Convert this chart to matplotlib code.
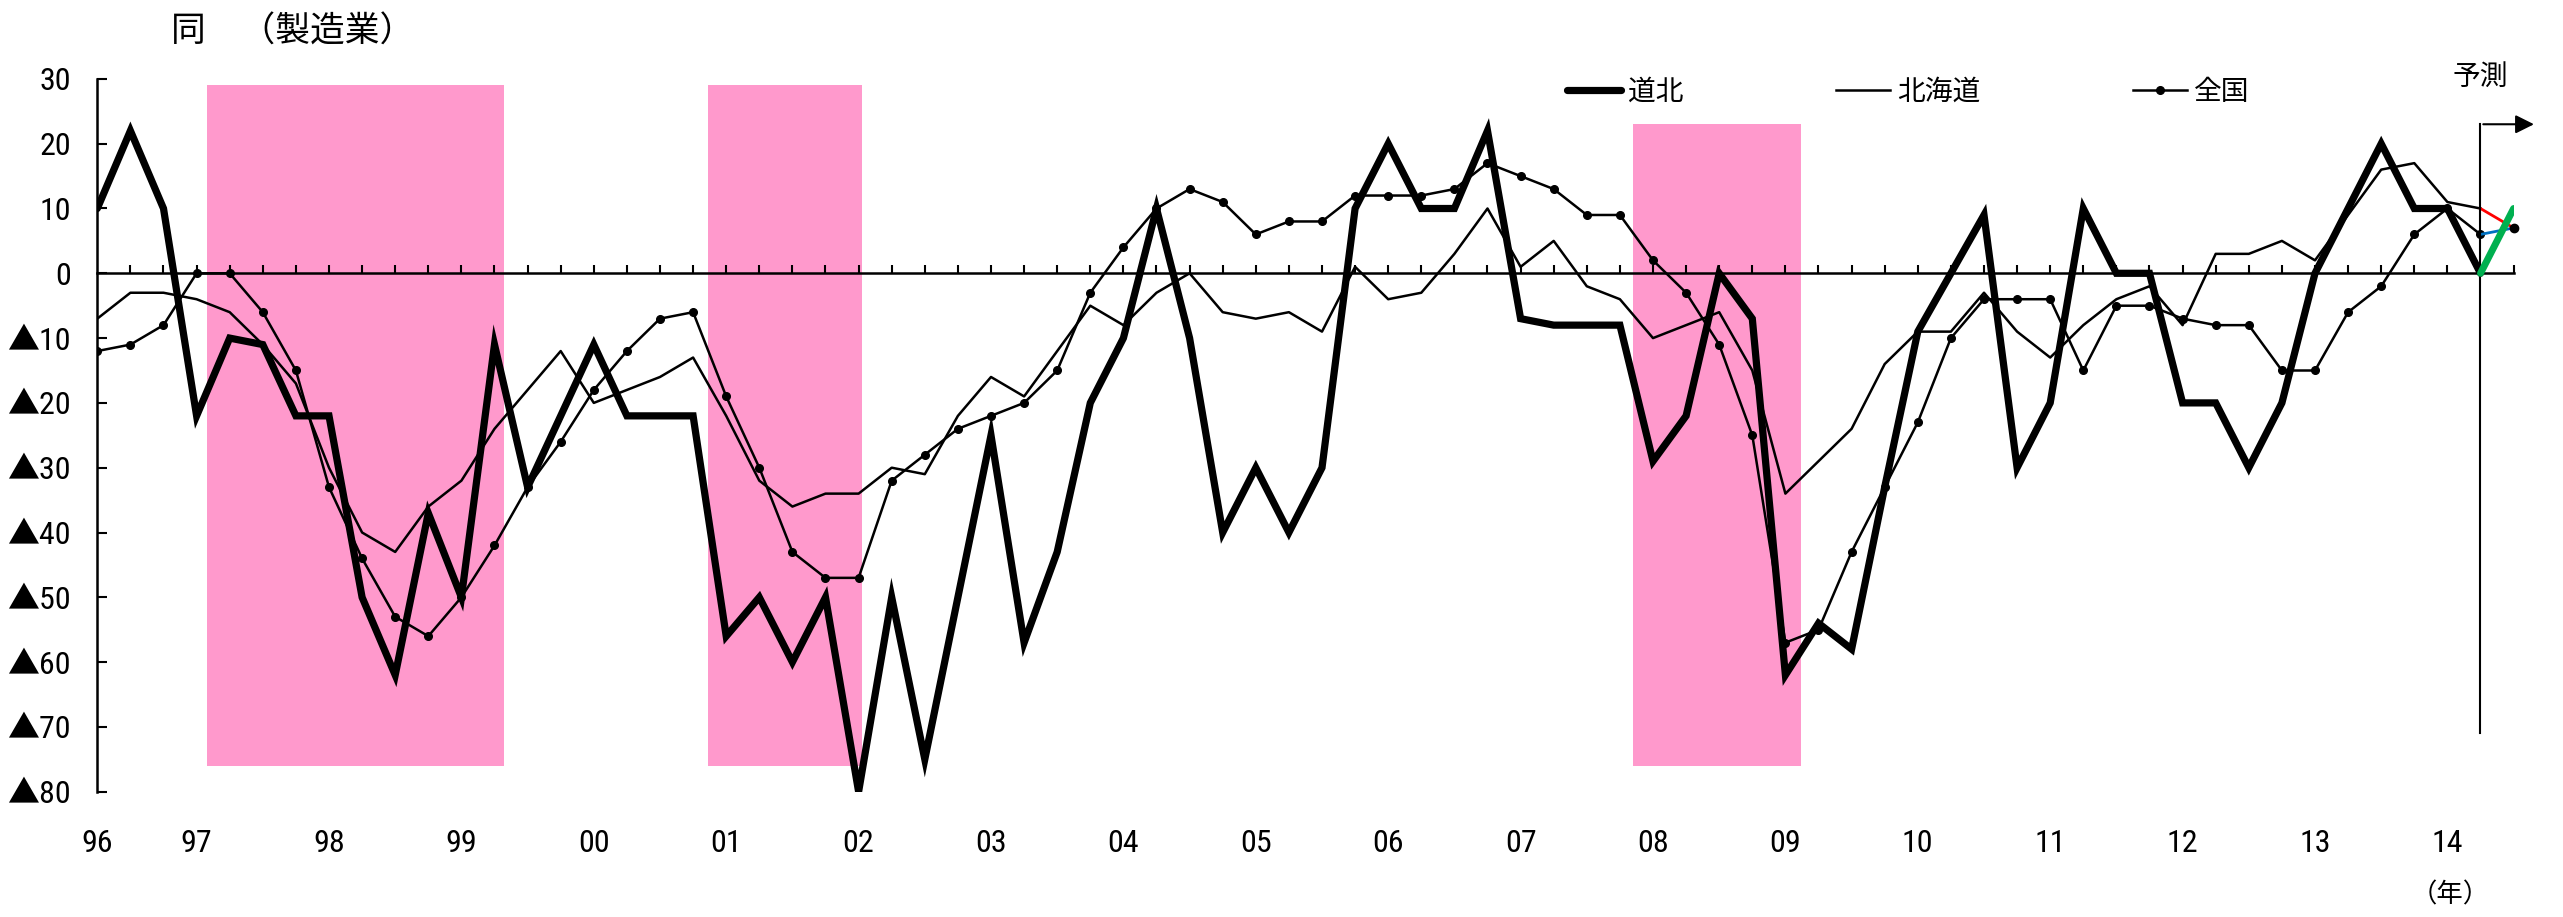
import numpy as np
import matplotlib
matplotlib.use("Agg")
import matplotlib.pyplot as plt
from matplotlib import transforms

NUM_FONT = ["Roboto Condensed", "Noto Sans CJK JP", "DejaVu Sans"]
JP_FONT = ["Noto Sans CJK JP", "DejaVu Sans"]
plt.rcParams["font.family"] = NUM_FONT

# quarterly DI values, index 0 = first survey quarter of 96
dohoku = [10, 22, 10, -22, -10, -11, -22, -22, -50, -62, -37, -50, -11, -33, -22, -11,
          -22, -22, -22, -56, -50, -60, -50, -80, -50, -75, -50, -25, -57, -43, -20, -10,
          10, -10, -40, -30, -40, -30, 10, 20, 10, 10, 22, -7, -8, -8, -8, -29,
          -22, 0, -7, -62, -54, -58, -33, -9, 0, 9, -30, -20, 10, 0, 0, -20,
          -20, -30, -20, 0, 10, 20, 10, 10, 0]
hokkaido = [-7, -3, -3, -4, -6, -11, -17, -30, -40, -43, -36, -32, -24, -18, -12, -20,
            -18, -16, -13, -22, -32, -36, -34, -34, -30, -31, -22, -16, -19, -12, -5, -8,
            -3, 0, -6, -7, -6, -9, 1, -4, -3, 3, 10, 1, 5, -2, -4, -10,
            -8, -6, -15, -34, -29, -24, -14, -9, -9, -3, -9, -13, -8, -4, -2, -8,
            3, 3, 5, 2, 9, 16, 17, 11, 10]
zenkoku = [-12, -11, -8, 0, 0, -6, -15, -33, -44, -53, -56, -50, -42, -33, -26, -18,
           -12, -7, -6, -19, -30, -43, -47, -47, -32, -28, -24, -22, -20, -15, -3, 4,
           10, 13, 11, 6, 8, 8, 12, 12, 12, 13, 17, 15, 13, 9, 9, 2,
           -3, -11, -25, -57, -55, -43, -33, -23, -10, -4, -4, -4, -15, -5, -5, -7,
           -8, -8, -15, -15, -6, -2, 6, 10, 6]

# forecast (next quarter)
dohoku_fc = 10
hokkaido_fc = 7
zenkoku_fc = 7

year_labels = ["96", "97", "98", "99", "00", "01", "02", "03", "04", "05",
               "06", "07", "08", "09", "10", "11", "12", "13", "14"]
year_pos = [0] + [3 + 4 * k for k in range(len(year_labels) - 1)]

y_ticks = [30, 20, 10, 0, -10, -20, -30, -40, -50, -60, -70, -80]
y_labels = ["30", "20", "10", "0", "▲10", "▲20", "▲30", "▲40", "▲50", "▲60", "▲70", "▲80"]

# recession shading (quarter index start/end, value bottom/top)
shade_start = [3.31, 18.45, 46.4]
shade_end = [12.29, 23.09, 51.47]
shade_bottom = [-76, -76, -76]
shade_top = [29, 29, 23.1]

W, H = 2563, 917
fig = plt.figure(figsize=(W / 100, H / 100), dpi=100)
x0, x1 = 97.3, 2513.6
y_top, y_bot = 78.9, 791.7
ax = fig.add_axes([x0 / W, 1 - y_bot / H, (x1 - x0) / W, (y_bot - y_top) / H])

n = len(dohoku)
q = np.arange(n)
last = n - 1
ax.set_xlim(0, n)
ax.set_ylim(-80, 30)

ax.bar(shade_start, np.array(shade_top) - np.array(shade_bottom),
       width=np.array(shade_end) - np.array(shade_start), bottom=shade_bottom,
       align="edge", color="#FF99CC", zorder=0, linewidth=0)

l1, = ax.plot(q, dohoku, color="black", lw=5.2, zorder=3, solid_joinstyle="miter",
              solid_capstyle="round")
l2, = ax.plot(q, hokkaido, color="black", lw=1.8, zorder=4)
l3, = ax.plot(q, zenkoku, color="black", lw=1.8, marker="o", markersize=5.5, zorder=4)

# forecast segments
ax.plot([last, last + 1], [hokkaido[-1], hokkaido_fc], color="#FF0000", lw=2, zorder=5)
ax.plot([last, last + 1], [zenkoku[-1], zenkoku_fc], color="#0070C0", lw=2, zorder=5)
ax.plot([last, last + 1], [dohoku[-1], dohoku_fc], color="#00B050", lw=5, zorder=6,
        solid_capstyle="round")
ax.plot([last + 1], [zenkoku_fc], "o", color="black", markersize=6, zorder=7, clip_on=False)

# forecast divider and arrow
fc_top, fc_bottom = 23, -71
ax.plot([last, last], [fc_bottom, fc_top], color="black", lw=1.5, zorder=5, clip_on=False)
ax.annotate("", xy=(last + 1.7, fc_top), xytext=(last, fc_top),
            arrowprops=dict(arrowstyle="-|>", color="black", lw=1.5, mutation_scale=28),
            annotation_clip=False)
ax.text(last, 30.3, "予測", ha="center", va="center", fontsize=20, family=JP_FONT,
        clip_on=False)

# axes styling
for s in ["top", "right"]:
    ax.spines[s].set_visible(False)
ax.spines["bottom"].set_position(("data", 0))
ax.spines["bottom"].set_linewidth(1.8)
ax.spines["left"].set_linewidth(1.8)
ax.spines["bottom"].set_zorder(2.5)

ax.set_xticks(q[1:].tolist() + [n])
ax.set_xticklabels([])
ax.tick_params(axis="x", direction="in", length=6, width=1.5)
ax.set_yticks(y_ticks)
ax.set_yticklabels(y_labels, fontsize=23, family=NUM_FONT)
ax.tick_params(axis="y", direction="in", length=7, width=1.5, pad=19)

trans = transforms.blended_transform_factory(ax.transData, fig.transFigure)
for p, lab in zip(year_pos, year_labels):
    ax.text(p, 1 - 852 / H, lab, transform=trans, ha="center", va="baseline",
            fontsize=23, family=NUM_FONT)
fig.text(2450 / W, 1 - 895 / H, "（年）", ha="center", va="center", fontsize=19,
         family=JP_FONT)

fig.text(171 / W, 1 - 32 / H, "同　（製造業）", ha="left", va="center", fontsize=25,
         family=JP_FONT)

ax.legend([l1, l2, l3], ["道北", "北海道", "全国"], loc="center left",
          bbox_to_anchor=(1567 / W, 1 - 92 / H), bbox_transform=fig.transFigure,
          ncol=3, frameon=False, handlelength=1.94, handletextpad=0.25,
          columnspacing=5.5, borderpad=0, borderaxespad=0,
          prop={"family": JP_FONT, "size": 20})

fig.savefig("out.png", dpi=100)
